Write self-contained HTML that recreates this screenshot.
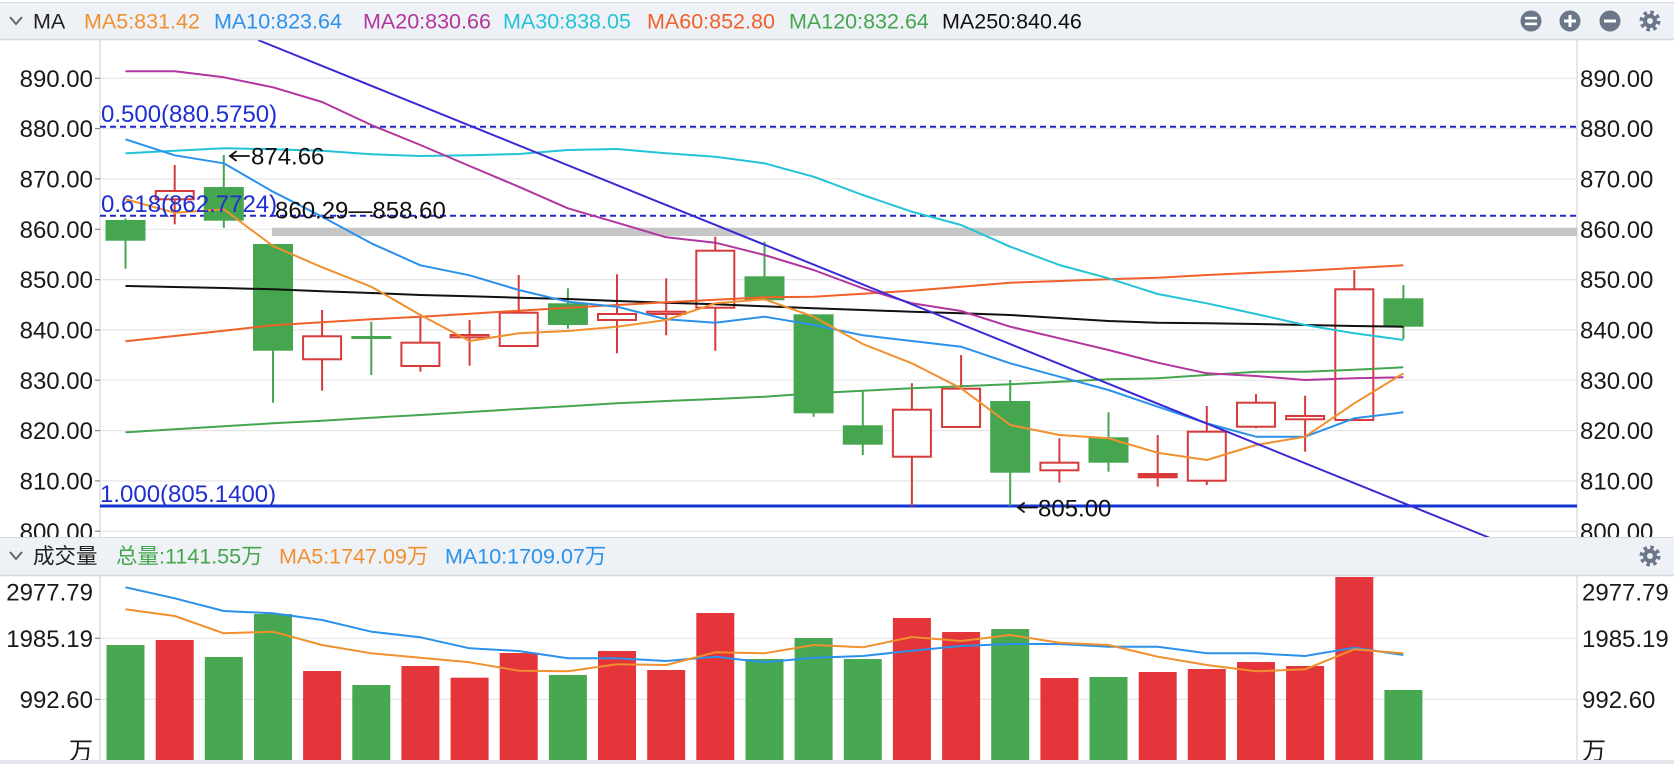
<!DOCTYPE html>
<html><head><meta charset="utf-8"><style>
html,body{margin:0;padding:0;background:#fff;}
svg{display:block;}
text{font-family:"Liberation Sans","Noto Sans CJK SC",sans-serif;}
</style></head><body>
<svg width="1674" height="764" viewBox="0 0 1674 764" xmlns="http://www.w3.org/2000/svg">
<rect x="0" y="0" width="1674" height="764" fill="#fff"/>
<!-- grid main -->
<g stroke="#e6e6e6" stroke-width="1.2">
<line x1="100" y1="78.3" x2="1577" y2="78.3"/>
<line x1="100" y1="128.6" x2="1577" y2="128.6"/>
<line x1="100" y1="178.9" x2="1577" y2="178.9"/>
<line x1="100" y1="229.3" x2="1577" y2="229.3"/>
<line x1="100" y1="279.6" x2="1577" y2="279.6"/>
<line x1="100" y1="329.9" x2="1577" y2="329.9"/>
<line x1="100" y1="380.2" x2="1577" y2="380.2"/>
<line x1="100" y1="430.6" x2="1577" y2="430.6"/>
<line x1="100" y1="480.9" x2="1577" y2="480.9"/>
<line x1="100" y1="531.2" x2="1577" y2="531.2"/>
<line x1="100" y1="638.3" x2="1577" y2="638.3"/>
<line x1="100" y1="699.4" x2="1577" y2="699.4"/>
</g>
<g stroke="#dedede" stroke-width="1.5">
<line x1="100" y1="40" x2="100" y2="760"/>
<line x1="1577" y1="40" x2="1577" y2="760"/>
</g>
<g stroke="#888" stroke-width="1.2">
<line x1="95" y1="78.3" x2="100" y2="78.3"/>
<line x1="95" y1="128.6" x2="100" y2="128.6"/>
<line x1="95" y1="178.9" x2="100" y2="178.9"/>
<line x1="95" y1="229.3" x2="100" y2="229.3"/>
<line x1="95" y1="279.6" x2="100" y2="279.6"/>
<line x1="95" y1="329.9" x2="100" y2="329.9"/>
<line x1="95" y1="380.2" x2="100" y2="380.2"/>
<line x1="95" y1="430.6" x2="100" y2="430.6"/>
<line x1="95" y1="480.9" x2="100" y2="480.9"/>
<line x1="95" y1="531.2" x2="100" y2="531.2"/>
<line x1="95" y1="638.3" x2="100" y2="638.3"/>
<line x1="95" y1="699.4" x2="100" y2="699.4"/>
</g>
<!-- gray band & fib lines -->
<rect x="272" y="227.7" width="1305" height="8.3" fill="#c6c6c6"/>
<g stroke="#2228c8" stroke-width="2" stroke-dasharray="6 4">
<line x1="100" y1="126.7" x2="1577" y2="126.7"/>
<line x1="100" y1="215.7" x2="1577" y2="215.7"/>
</g>
<line x1="100" y1="506" x2="1577" y2="506" stroke="#1636d4" stroke-width="3"/>

<!-- candles -->
<g stroke-width="2">
<g stroke="#45a64f" fill="#45a64f">
<line x1="125.5" y1="218.3" x2="125.5" y2="268.7"/><rect x="105.5" y="220" width="40" height="20.7" stroke="none"/>
<line x1="223.8" y1="155" x2="223.8" y2="227.7"/><rect x="203.8" y="187" width="40" height="33.7" stroke="none"/>
<line x1="273" y1="244" x2="273" y2="402.7"/><rect x="253" y="244" width="40" height="106.7" stroke="none"/>
<line x1="371.3" y1="321.7" x2="371.3" y2="375"/><rect x="351.3" y="336" width="40" height="3" stroke="none"/>
<line x1="567.9" y1="288.3" x2="567.9" y2="328.7"/><rect x="547.9" y="303.3" width="40" height="21.7" stroke="none"/>
<line x1="764.5" y1="241.7" x2="764.5" y2="300.3"/><rect x="744.5" y="276.3" width="40" height="24" stroke="none"/>
<line x1="813.6" y1="314.3" x2="813.6" y2="416.7"/><rect x="793.6" y="314.3" width="40" height="99" stroke="none"/>
<line x1="862.8" y1="390" x2="862.8" y2="455"/><rect x="842.8" y="425.3" width="40" height="19.4" stroke="none"/>
<line x1="1010.2" y1="380" x2="1010.2" y2="506"/><rect x="990.2" y="401" width="40" height="71.7" stroke="none"/>
<line x1="1108.5" y1="412.3" x2="1108.5" y2="471.7"/><rect x="1088.5" y="437.3" width="40" height="25.4" stroke="none"/>
<line x1="1403.4" y1="285" x2="1403.4" y2="339"/><rect x="1383.4" y="298.3" width="40" height="28.4" stroke="none"/>
</g>
<g stroke="#d63a3a" fill="#fff">
<line x1="174.7" y1="165" x2="174.7" y2="224.3"/><rect x="155.7" y="191" width="38" height="8.3"/>
<line x1="322.1" y1="310" x2="322.1" y2="390.7"/><rect x="303.1" y="336.3" width="38" height="23"/>
<line x1="420.4" y1="315.3" x2="420.4" y2="371.7"/><rect x="401.4" y="342.7" width="38" height="23.3"/>
<line x1="469.6" y1="320" x2="469.6" y2="365.7"/><rect x="450.6" y="335" width="38" height="2.3"/>
<line x1="518.7" y1="275" x2="518.7" y2="346"/><rect x="499.7" y="312.7" width="38" height="33.3"/>
<line x1="617" y1="274.3" x2="617" y2="353.3"/><rect x="598" y="314" width="38" height="6"/>
<line x1="666.2" y1="278.3" x2="666.2" y2="335.3"/><rect x="647.2" y="311.7" width="38" height="2.3"/>
<line x1="715.3" y1="236.7" x2="715.3" y2="350.7"/><rect x="696.3" y="250.7" width="38" height="57"/>
<line x1="911.9" y1="383.3" x2="911.9" y2="506"/><rect x="892.9" y="409.7" width="38" height="47"/>
<line x1="961.1" y1="355" x2="961.1" y2="427"/><rect x="942.1" y="388.7" width="38" height="38.3"/>
<line x1="1059.4" y1="438.3" x2="1059.4" y2="482.7"/><rect x="1040.4" y="462.7" width="38" height="7.6"/>
<line x1="1157.7" y1="435" x2="1157.7" y2="486.7"/><rect x="1138.7" y="474" width="38" height="3.3" fill="#e0353a"/>
<line x1="1206.8" y1="406" x2="1206.8" y2="485"/><rect x="1187.8" y="431.7" width="38" height="49"/>
<line x1="1256" y1="394" x2="1256" y2="428.3"/><rect x="1237" y="402.7" width="38" height="24"/>
<line x1="1305.1" y1="395.7" x2="1305.1" y2="451.7"/><rect x="1286.1" y="416" width="38" height="3.3"/>
<line x1="1354.3" y1="270" x2="1354.3" y2="420"/><rect x="1335.3" y="289.3" width="38" height="130.7"/>
</g>
</g>

<!-- MA lines -->
<g fill="none" stroke-width="2" stroke-linejoin="round">
<polyline stroke="#45a64f" points="125.5,432.3 174.7,429.3 223.8,426.3 273,423.3 322.1,420.7 371.3,417.7 420.4,415 469.6,412 518.7,409 567.9,406.3 617,403.3 666.2,401 715.3,399 764.5,396.7 813.6,393.3 862.8,390.7 911.9,388.3 961.1,386.3 1010.2,384.3 1059.4,381.7 1108.5,379.3 1157.7,378.3 1206.8,375 1256,371.7 1305.1,371.7 1354.3,369.7 1403.4,367.3"/>
<polyline stroke="#111" points="125.5,286 174.7,287 223.8,288 273,289.3 322.1,291.3 371.3,293 420.4,295 469.6,296.3 518.7,297.7 567.9,299 617,301 666.2,302.7 715.3,304.3 764.5,306.3 813.6,308.3 862.8,310 911.9,311.7 961.1,313.3 1010.2,315 1059.4,318 1108.5,321 1157.7,322.7 1206.8,323.3 1256,324 1305.1,325 1354.3,326 1403.4,326.7"/>
<polyline stroke="#f0612a" points="125.5,341.3 174.7,336 223.8,330.7 273,325.3 322.1,322.3 371.3,319.3 420.4,316.7 469.6,313.7 518.7,310.7 567.9,307.7 617,305 666.2,302.3 715.3,299.7 764.5,297.3 813.6,296.7 862.8,293.7 911.9,290.7 961.1,286.7 1010.2,282.7 1059.4,281 1108.5,279.3 1157.7,277.7 1206.8,275 1256,272.7 1305.1,270.7 1354.3,268 1403.4,265.3"/>
<polyline stroke="#22c3d7" points="125.5,153.3 174.7,150.7 223.8,148.3 273,149.3 322.1,150.7 371.3,154.3 420.4,156 469.6,155.3 518.7,154 567.9,150 617,149 666.2,153.3 715.3,156.7 764.5,163.3 813.6,176.7 862.8,195 911.9,211.7 961.1,225 1010.2,246.7 1059.4,265 1108.5,278.3 1157.7,294 1206.8,303.3 1256,314 1305.1,325 1354.3,333.3 1403.4,340"/>
<polyline stroke="#b3359f" points="125.5,71.3 174.7,71.3 223.8,77.3 273,87.3 322.1,102 371.3,125 420.4,145 469.6,166 518.7,186.7 567.9,208.3 617,222.7 666.2,237.3 715.3,242.7 764.5,255 813.6,270 862.8,288.3 911.9,303.3 961.1,311 1010.2,326.7 1059.4,338.3 1108.5,350 1157.7,362.7 1206.8,373.3 1256,376 1305.1,380 1354.3,378.3 1403.4,377.3"/>
<polyline stroke="#2b91ea" points="125.5,139.3 174.7,155.3 223.8,163.3 273,191.7 322.1,216.7 371.3,243.3 420.4,265.3 469.6,275.3 518.7,290 567.9,301.7 617,306.7 666.2,319.3 715.3,322.7 764.5,316.7 813.6,325 862.8,335.3 911.9,341 961.1,346.7 1010.2,363.3 1059.4,376.7 1108.5,390 1157.7,406.7 1206.8,423.3 1256,436.7 1305.1,436.7 1354.3,418.3 1403.4,412.3"/>
<polyline stroke="#f0902e" points="125.5,199.3 174.7,212.7 223.8,209.3 273,246 322.1,267.3 371.3,286.7 420.4,315 469.6,341 518.7,333.3 567.9,331 617,326.7 666.2,320 715.3,303.3 764.5,299.3 813.6,316.7 862.8,344 911.9,363.3 961.1,388.3 1010.2,425 1059.4,435 1108.5,438.3 1157.7,452.7 1206.8,460 1256,445 1305.1,436.7 1354.3,403.3 1403.4,373.3"/>
</g>
<!-- trend line -->
<line x1="258" y1="40" x2="1490" y2="538" stroke="#3a2ad6" stroke-width="2"/>

<!-- annotations -->
<g font-size="24">
<text x="101" y="122" fill="#1f2fd0">0.500(880.5750)</text>
<text x="101" y="212" fill="#1f2fd0">0.618(862.7724)</text>
<text x="100" y="502" fill="#1f2fd0">1.000(805.1400)</text>
<text x="275" y="218.6" fill="#111">860.29—858.60</text>
<text x="251" y="164.6" fill="#111">874.66</text>
<text x="1038" y="516.6" fill="#111">805.00</text>
</g>
<g stroke="#111" stroke-width="1.8" fill="none" stroke-linecap="round">
<line x1="230" y1="156" x2="249" y2="156"/>
<polyline points="236,151.5 230,156 236,160.5"/>
<line x1="1018" y1="507.5" x2="1037" y2="507.5"/>
<polyline points="1024,503 1018,507.5 1024,512"/>
</g>

<!-- axis labels main -->
<g font-size="24" fill="#1a1a1a">
<text x="93" y="86.9" text-anchor="end">890.00</text>
<text x="93" y="137.2" text-anchor="end">880.00</text>
<text x="93" y="187.5" text-anchor="end">870.00</text>
<text x="93" y="237.9" text-anchor="end">860.00</text>
<text x="93" y="288.2" text-anchor="end">850.00</text>
<text x="93" y="338.5" text-anchor="end">840.00</text>
<text x="93" y="388.8" text-anchor="end">830.00</text>
<text x="93" y="439.2" text-anchor="end">820.00</text>
<text x="93" y="489.5" text-anchor="end">810.00</text>
<text x="93" y="539.8" text-anchor="end">800.00</text>
<text x="1580" y="86.9">890.00</text>
<text x="1580" y="137.2">880.00</text>
<text x="1580" y="187.5">870.00</text>
<text x="1580" y="237.9">860.00</text>
<text x="1580" y="288.2">850.00</text>
<text x="1580" y="338.5">840.00</text>
<text x="1580" y="388.8">830.00</text>
<text x="1580" y="439.2">820.00</text>
<text x="1580" y="489.5">810.00</text>
<text x="1580" y="539.8">800.00</text>
</g>

<!-- volume bars -->
<g fill="#48a851">
<rect x="106.5" y="645" width="38" height="115.3"/>
<rect x="204.8" y="657" width="38" height="103.3"/>
<rect x="254" y="614" width="38" height="146.3"/>
<rect x="352.3" y="685" width="38" height="75.3"/>
<rect x="548.9" y="675" width="38" height="85.3"/>
<rect x="745.5" y="659" width="38" height="101.3"/>
<rect x="794.6" y="638" width="38" height="122.3"/>
<rect x="843.8" y="659" width="38" height="101.3"/>
<rect x="991.2" y="629" width="38" height="131.3"/>
<rect x="1089.5" y="677" width="38" height="83.3"/>
<rect x="1384.4" y="690" width="38" height="70.3"/>
</g>
<g fill="#e4353a">
<rect x="155.7" y="640" width="38" height="120.3"/>
<rect x="303.1" y="671" width="38" height="89.3"/>
<rect x="401.4" y="666" width="38" height="94.3"/>
<rect x="450.6" y="677.7" width="38" height="82.6"/>
<rect x="499.7" y="653" width="38" height="107.3"/>
<rect x="598" y="651" width="38" height="109.3"/>
<rect x="647.2" y="670" width="38" height="90.3"/>
<rect x="696.3" y="613" width="38" height="147.3"/>
<rect x="892.9" y="618" width="38" height="142.3"/>
<rect x="942.1" y="632" width="38" height="128.3"/>
<rect x="1040.4" y="678" width="38" height="82.3"/>
<rect x="1138.7" y="672" width="38" height="88.3"/>
<rect x="1187.8" y="669" width="38" height="91.3"/>
<rect x="1237" y="662" width="38" height="98.3"/>
<rect x="1286.1" y="666" width="38" height="94.3"/>
<rect x="1335.3" y="577" width="38" height="183.3"/>
</g>
<g fill="none" stroke-width="2" stroke-linejoin="round">
<polyline stroke="#2b91ea" points="125.5,587.3 174.7,598.3 223.8,611 273,613.3 322.1,620 371.3,631.7 420.4,637.3 469.6,648.3 518.7,651 567.9,658.3 617,658.3 666.2,661 715.3,656.7 764.5,662.3 813.6,657.7 862.8,656 911.9,650.7 961.1,646 1010.2,644 1059.4,644 1108.5,646.7 1157.7,646.7 1206.8,653.3 1256,653.3 1305.1,656 1354.3,647.7 1403.4,655"/>
<polyline stroke="#f0902e" points="125.5,609.3 174.7,616 223.8,633.3 273,631.7 322.1,645 371.3,653.3 420.4,657.7 469.6,662.3 518.7,670.7 567.9,671.3 617,664.3 666.2,665 715.3,652.3 764.5,653.3 813.6,645 862.8,647.3 911.9,637 961.1,641 1010.2,635 1059.4,642.7 1108.5,645 1157.7,656.7 1206.8,665 1256,671.3 1305.1,669.3 1354.3,649.3 1403.4,653.3"/>
</g>
<g font-size="24" fill="#1a1a1a">
<text x="93" y="600.6" text-anchor="end">2977.79</text>
<text x="93" y="646.9" text-anchor="end">1985.19</text>
<text x="93" y="708.1" text-anchor="end">992.60</text>
<text x="93" y="759" text-anchor="end">万</text>
<text x="1582" y="600.6">2977.79</text>
<text x="1582" y="646.9">1985.19</text>
<text x="1582" y="708.1">992.60</text>
<text x="1582" y="759">万</text>
</g>
<rect x="0" y="760" width="1674" height="4" fill="#e4e7eb"/>

<!-- top header -->
<rect x="0" y="2" width="1674" height="38" fill="#eef1f6"/>
<line x1="0" y1="2.5" x2="1674" y2="2.5" stroke="#d8dce2" stroke-width="1"/>
<line x1="0" y1="39.5" x2="1674" y2="39.5" stroke="#d3d7de" stroke-width="1.5"/>
<polyline points="10,17 16,24 22,17" fill="none" stroke="#666" stroke-width="2"/>
<g font-size="21.5">
<text x="33" y="28.7" fill="#222">MA</text>
<text x="84" y="28.7" fill="#f0902e">MA5:831.42</text>
<text x="214" y="28.7" fill="#2b91ea">MA10:823.64</text>
<text x="363" y="28.7" fill="#b3359f">MA20:830.66</text>
<text x="503" y="28.7" fill="#22c3d7">MA30:838.05</text>
<text x="647" y="28.7" fill="#f0612a">MA60:852.80</text>
<text x="789" y="28.7" fill="#45a64f">MA120:832.64</text>
<text x="942" y="28.7" fill="#111">MA250:840.46</text>
</g>
<circle cx="1531" cy="21" r="10.5" fill="#6b7689"/>
<rect x="1525" y="16.8" width="12" height="2.6" fill="#fff"/>
<rect x="1525" y="22.6" width="12" height="2.6" fill="#fff"/>
<circle cx="1570" cy="21" r="10.5" fill="#6b7689"/>
<rect x="1564" y="19.5" width="12" height="3" fill="#fff"/>
<rect x="1568.5" y="15" width="3" height="12" fill="#fff"/>
<circle cx="1610" cy="21" r="10.5" fill="#6b7689"/>
<rect x="1604" y="19.5" width="12" height="3" fill="#fff"/>
<g>
<circle cx="1650" cy="21" r="7" fill="#6b7689"/>
<circle cx="1650" cy="21" r="8.5" fill="none" stroke="#6b7689" stroke-width="4" stroke-dasharray="3.4 3.28"/>
<circle cx="1650" cy="21" r="3" fill="#eef1f6"/>
</g>

<!-- volume header -->
<rect x="0" y="537" width="1674" height="39" fill="#eef1f6"/>
<line x1="0" y1="537.5" x2="1674" y2="537.5" stroke="#d8dce2" stroke-width="1"/>
<line x1="0" y1="575.5" x2="1674" y2="575.5" stroke="#d3d7de" stroke-width="1.5"/>
<polyline points="10,552 16,559 22,552" fill="none" stroke="#666" stroke-width="2"/>
<g font-size="21.5">
<text x="33" y="563.7" fill="#222">成交量</text>
<text x="116" y="563.7" fill="#45a64f">总量:1141.55万</text>
<text x="279" y="563.7" fill="#f0902e">MA5:1747.09万</text>
<text x="445" y="563.7" fill="#2b91ea">MA10:1709.07万</text>
</g>
<g>
<circle cx="1650" cy="556" r="7" fill="#6b7689"/>
<circle cx="1650" cy="556" r="8.5" fill="none" stroke="#6b7689" stroke-width="4" stroke-dasharray="3.4 3.28"/>
<circle cx="1650" cy="556" r="3" fill="#eef1f6"/>
</g>
</svg>
</body></html>
